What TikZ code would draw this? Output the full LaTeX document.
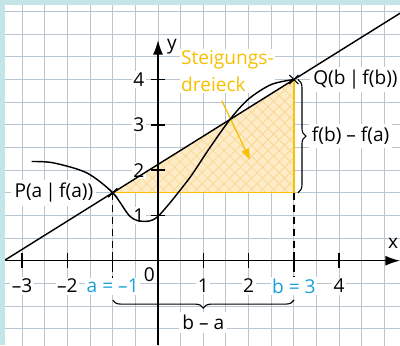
\documentclass[tikz,border=0pt]{standalone}
\usepackage{fontspec}
\setmainfont{Open Sans}
\usetikzlibrary{positioning, arrows.meta, decorations.pathreplacing, shapes.misc}
\definecolor{gridline}{RGB}{185,198,207}
\definecolor{frame}{RGB}{197,230,233}
\definecolor{steig}{RGB}{247,192,0}
\definecolor{hatchfill}{RGB}{254,236,200}
\definecolor{hatchline}{RGB}{249,216,148}
\definecolor{param}{RGB}{27,160,216}

\begin{document}
\begin{tikzpicture}[
    every node/.style={font=\fontsize{12}{14}\selectfont},
    axis/.style={-{Latex[length=3.2mm, width=2.2mm]}, line width=0.9pt},
    graph/.style={line width=0.9pt},
    ticklabel/.style={fill=white, inner sep=1pt},
    tickmark/.style={line width=0.9pt},
    helpline/.style={line width=0.8pt, dash pattern=on 4.5pt off 3pt},
    brace/.style={decorate, decoration={brace, amplitude=5pt}, line width=0.7pt},
    crossmark/.style={draw, cross out, minimum size=5pt, inner sep=0pt, line width=0.7pt},
    steigarrow/.style={-{Triangle[length=2.4mm, width=1.7mm]}, steig, line width=0.8pt},
]

% paper with grid and frame
\useasboundingbox (-3.488,-1.861) rectangle (5.342,5.755);
\fill[white] (-3.488,-1.861) rectangle (5.342,5.755);
\draw[gridline, line width=0.6pt, step=0.5] (-3.5,-2) grid (5.5,5.7);
\fill[frame] (-3.488,5.645) rectangle (5.342,5.755);
\fill[frame] (-3.488,-1.861) rectangle (-3.37,5.755);

% points
\coordinate (P) at (-1,1.5);
\coordinate (Q) at (3,4);
\coordinate (R) at (3,1.5);
\coordinate (Pfoot) at (-1,-0.87);
\coordinate (Rfoot) at (3,-0.87);
\coordinate (Qr) at (3.09,4);
\coordinate (Rr) at (3.09,1.5);

% slope triangle (hatched)
\begin{scope}
  \clip (P) -- (R) -- (Q) -- cycle;
  \fill[hatchfill] (P) -- (R) -- (Q) -- cycle;
  \foreach \k in {-30,...,30} {
    \draw[hatchline, line width=0.5pt] (\k*0.243,0) -- ++(5,5);
    \draw[hatchline, line width=0.5pt] (\k*0.243,0) -- ++(-5,5);
  }
\end{scope}
\draw[steig, line width=0.8pt] (P) -- (R) -- (Q);

% helper lines and braces
\draw[helpline] (P) -- (Pfoot);
\draw[helpline] (R) -- (Rfoot);
\draw[brace] (Rfoot) -- (Pfoot);
\draw[brace] (Qr) -- (Rr);

% axes
\coordinate (xmin) at (-3.37,0);
\coordinate (xmax) at (5.34,0);
\coordinate (ymin) at (0,-1.87);
\coordinate (ymax) at (0,4.87);
\draw[axis] (xmin) -- (xmax);
\draw[axis] (ymin) -- (ymax);
\foreach \x in {-3,-2,-1,1,2,3,4}
  \draw[tickmark] (\x,-0.16) -- (\x,0.16);
\foreach \y in {1,...,4}
  \draw[tickmark] (-0.16,\y) -- (0.16,\y);
\node (xlab) at (5.19,0.39) {x};
\node (ylab) at (0.31,4.72) {y};

% tick labels
\foreach \x/\t/\n in {-3/--3/m3, -2/--2/m2, 1/1/p1, 2/2/p2, 4/4/p4}
  \node[ticklabel] (x\n) at (\x,-0.56) {\t};
\node[ticklabel, text=param] (alab) at (-1,-0.56) {a = --1};
\node[ticklabel, text=param] (blab) at (3,-0.56) {b = 3};
\node[ticklabel] (olab) at (-0.19,-0.3) {0};
\foreach \y in {1,...,4}
  \node[ticklabel, anchor=east] (y\y) at (-0.26,\y) {\y};

% labels
\node[fill=white, inner sep=2pt, anchor=east, xshift=-10pt] (Plab) at (P) {P(a\,|\,f(a))};
\node[fill=white, inner sep=2pt, anchor=west, xshift=10pt] (Qlab) at (Q) {Q(b\,|\,f(b))};
\node[fill=white, inner sep=2pt, anchor=west] (dflab) at (3.32,2.75) {f(b) -- f(a)};
\node[fill=white, inner sep=2pt] (balab) at (1,-1.37) {b -- a};
\node[fill=white, inner sep=1pt, text=steig, align=left, anchor=west,
      font=\fontsize{12}{16.5}\selectfont] (steiglab) at (0.47,4.185) {Steigungs-\\dreieck};
\coordinate (sa) at (1.41,3.53);
\coordinate (se) at (2.03,2.23);
\draw[steigarrow] (sa) -- (se);

% secant and graph
\coordinate (sl) at (-3.37,0.019);
\coordinate (sr) at (5.45,5.53);
\draw[graph] (sl) -- (sr);
\draw[graph] plot[smooth] coordinates {(-2.79,2.19) (-2.31,2.16) (-1.575,1.94)
  (-1,1.5) (-0.62,0.98) (-0.33,0.87) (0,0.98) (0.67,1.79) (1.1,2.43)
  (1.59,3.12) (2.0,3.57) (2.5,3.89) (3,4)};
\node[crossmark] (Pm) at (P) {};
\node[crossmark] (Qm) at (Q) {};

\end{tikzpicture}
\end{document}
